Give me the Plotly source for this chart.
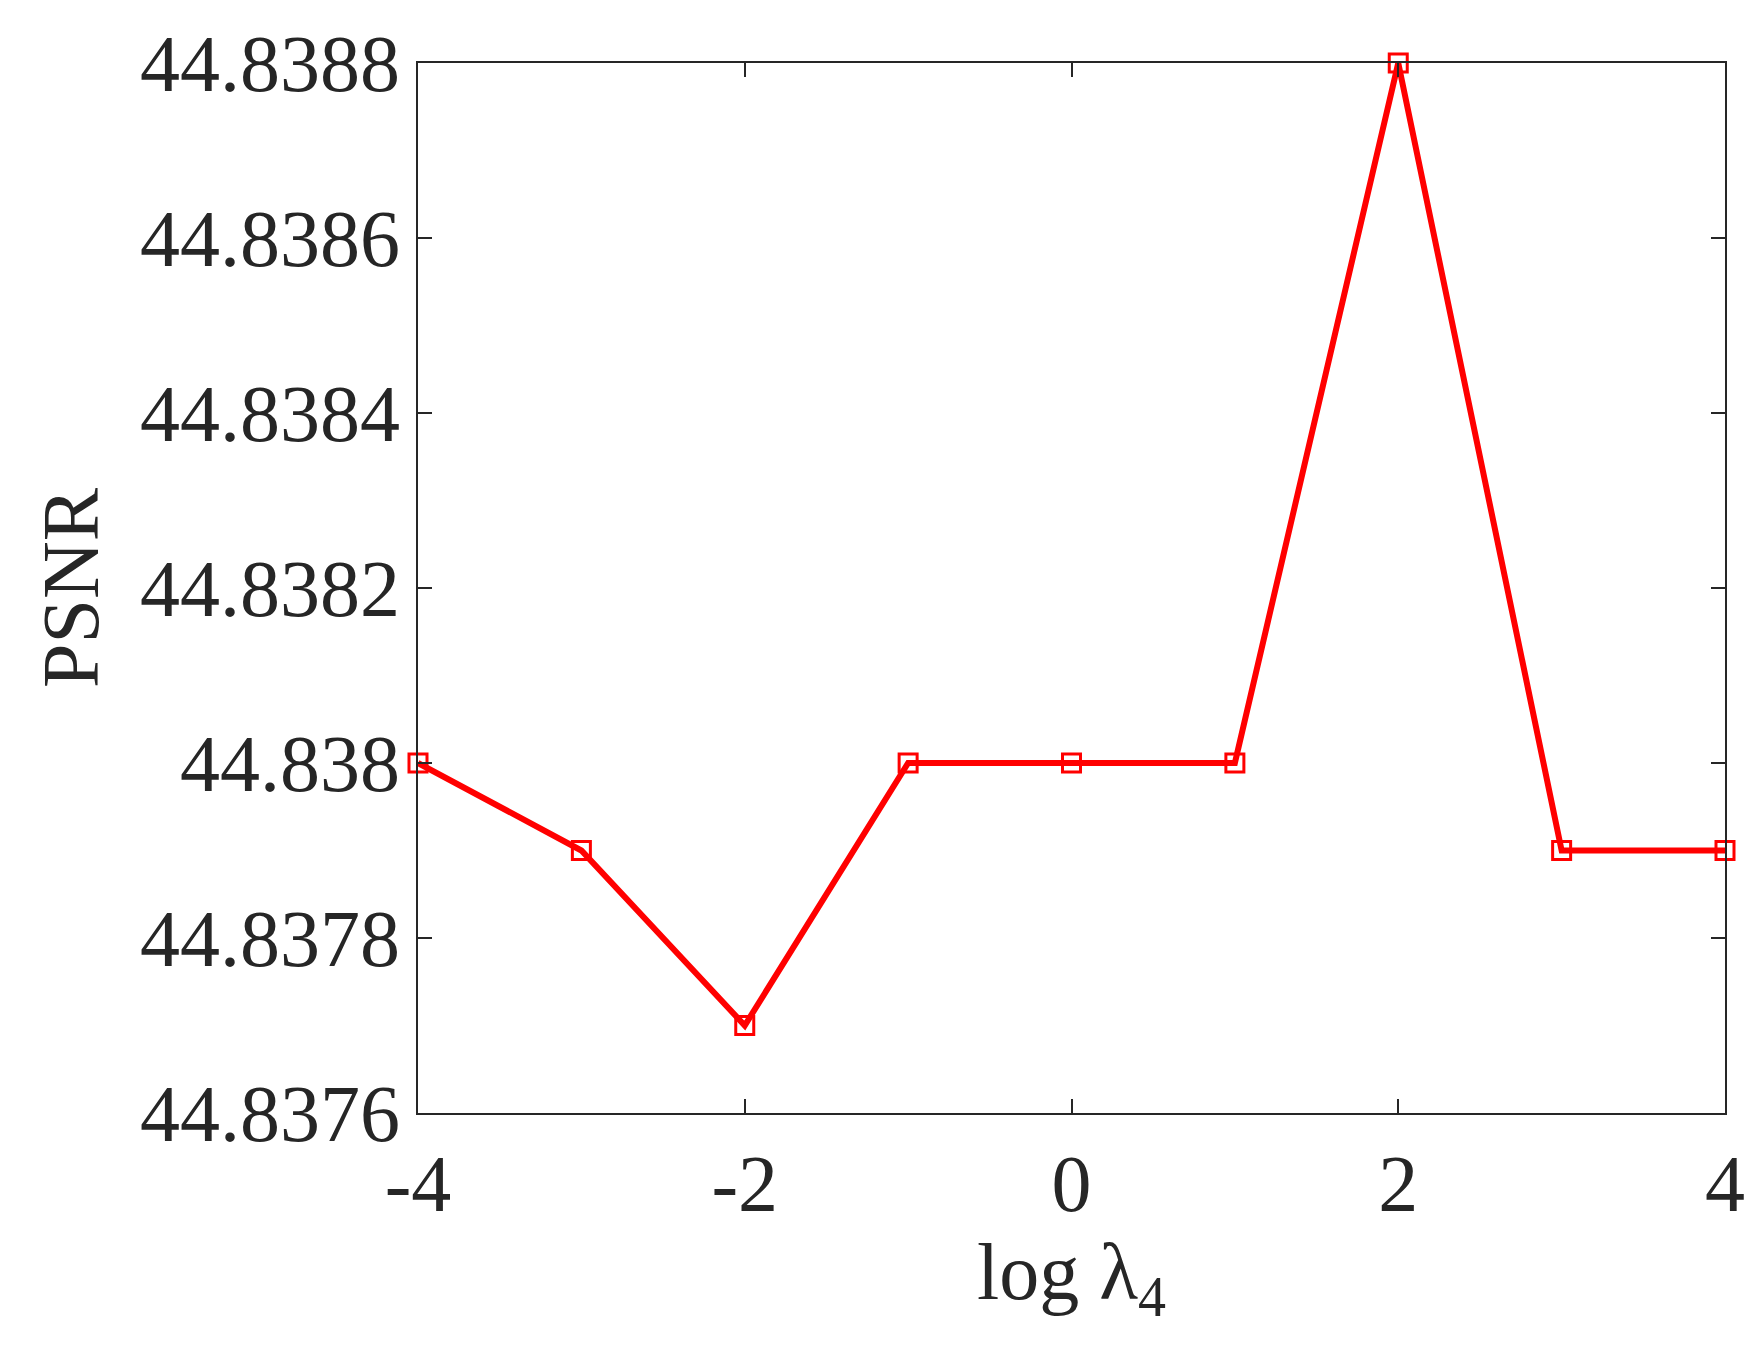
import plotly.graph_objects as go

x_vals = [-4, -3, -2, -1, 0, 1, 2, 3, 4]
psnr = [44.8380, 44.8379, 44.8377, 44.8380, 44.8380, 44.8380, 44.8388, 44.8379, 44.8379]
y_ticks = [44.8376, 44.8378, 44.8380, 44.8382, 44.8384, 44.8386, 44.8388]
y_tick_labels = ["44.8376", "44.8378", "44.838", "44.8382", "44.8384", "44.8386", "44.8388"]
x_ticks = [-4, -2, 0, 2, 4]

fig = go.Figure(go.Scatter(
    x=x_vals, y=psnr, mode="lines+markers",
    line=dict(color="#ff0000", width=6),
    marker=dict(symbol="square-open", size=18, color="#ff0000", line=dict(width=3)),
    cliponaxis=False,
))
font = dict(family="Liberation Serif", size=80, color="#262626")
axis_common = dict(showgrid=False, zeroline=False, showline=True, linecolor="#262626",
                   linewidth=2, mirror="ticks", ticks="inside", ticklen=14,
                   tickcolor="#262626", tickwidth=2, tickfont=font)
fig.update_xaxes(range=[-4, 4], tickvals=x_ticks, ticktext=[str(v) for v in x_ticks],
                 title=dict(text="log λ<sub>4</sub>", font=font, standoff=15), **axis_common)
fig.update_yaxes(range=[44.8376, 44.8388], tickvals=y_ticks, ticktext=y_tick_labels,
                 title=dict(text="PSNR", font=font, standoff=15), **axis_common)
fig.update_layout(width=1754, height=1355, plot_bgcolor="white", paper_bgcolor="white",
                  margin=dict(l=410, r=37, t=49, b=250), showlegend=False)
fig.write_html("out.html")
